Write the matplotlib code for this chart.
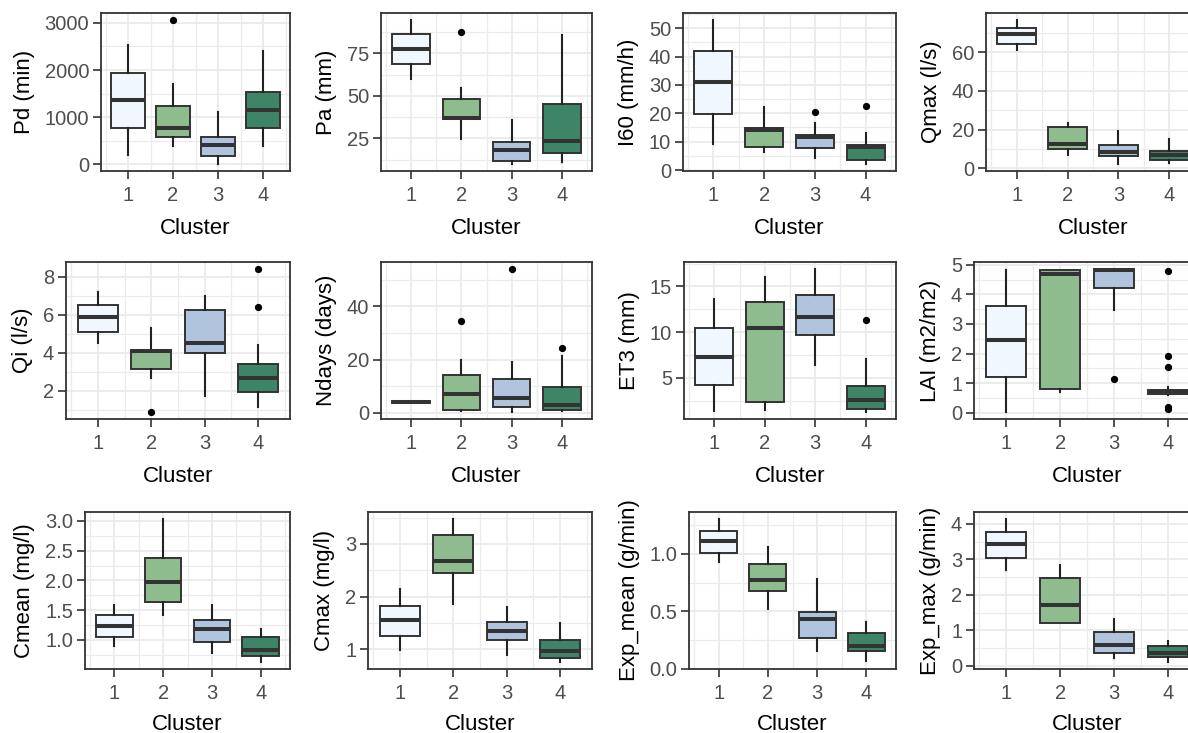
import matplotlib
matplotlib.use("Agg")
import matplotlib.pyplot as plt
from matplotlib.ticker import FixedLocator
import numpy as np

plt.rcParams['font.family'] = ['Liberation Sans', 'DejaVu Sans']

clusters = [1, 2, 3, 4]
cluster_colors = ["#F0F7FE", "#8FBC8F", "#B0C4DE", "#3E8567"]

# per cluster: [whisker low, Q1, median, Q3, whisker high]
pd_stats = [[198, 762, 1376, 1940, 2540], [388, 586, 783, 1249, 1694],
            [14, 176, 409, 586, 1108], [388, 762, 1150, 1538, 2400]]
pd_out = [[], [3056], [], []]

pa_stats = [[60.1, 68.5, 77.7, 86.2, 94.4], [24.4, 36.2, 37.0, 48.3, 54.4],
            [10.1, 11.5, 18.1, 22.8, 35.8], [11.3, 16.6, 23.4, 45.2, 85.6]]
pa_out = [[], [87.5], [], []]

i60_stats = [[9.1, 19.6, 31.1, 41.8, 52.8], [6.5, 8.0, 14.0, 14.8, 22.2],
             [4.1, 7.9, 11.8, 12.2, 16.7], [2.2, 3.5, 8.2, 8.7, 13.2]]
i60_out = [[], [], [20.6], [22.4]]

qmax_stats = [[60.9, 64.3, 69.1, 72.6, 76.4], [7.2, 10.2, 12.4, 21.3, 23.6],
              [2.4, 6.4, 8.6, 11.9, 19.3], [2.6, 4.3, 6.7, 8.9, 15.0]]
qmax_out = [[], [], [], []]

qi_stats = [[4.51, 5.09, 5.91, 6.54, 7.18], [2.70, 3.17, 4.11, 4.16, 5.32],
            [1.74, 4.01, 4.51, 6.26, 7.01], [1.13, 1.95, 2.70, 3.40, 4.43]]
qi_out = [[], [0.9], [], [6.4, 8.4]]

ndays_stats = [[3.9, 3.9, 4.1, 4.3, 4.3], [0.6, 1.2, 7.0, 14.3, 19.9],
               [0.4, 2.2, 5.7, 12.8, 19.1], [0.7, 1.2, 2.9, 9.7, 21.5]]
ndays_out = [[], [34.6], [53.9], [24.4]]

et3_stats = [[1.3, 4.2, 7.3, 10.5, 13.6], [1.45, 2.3, 10.4, 13.3, 16.0],
             [6.4, 9.7, 11.7, 14.1, 16.9], [1.26, 1.56, 2.55, 4.1, 7.05]]
et3_out = [[], [], [], [11.3]]

lai_stats = [[0.03, 1.21, 2.46, 3.6, 4.81], [0.70, 0.79, 4.67, 4.81, 4.81],
             [3.47, 4.22, 4.83, 4.85, 4.85], [0.61, 0.63, 0.70, 0.77, 0.87]]
lai_out = [[], [], [1.13], [0.12, 0.2, 1.54, 1.90, 4.78]]

cmean_stats = [[0.90, 1.04, 1.24, 1.42, 1.59], [1.41, 1.63, 1.97, 2.37, 3.03],
               [0.78, 0.96, 1.19, 1.33, 1.58], [0.63, 0.73, 0.83, 1.05, 1.19]]
cmean_out = [[], [], [], []]

cmax_stats = [[0.98, 1.26, 1.55, 1.83, 2.14], [1.85, 2.44, 2.68, 3.16, 3.47],
              [0.89, 1.17, 1.35, 1.52, 1.80], [0.76, 0.84, 0.96, 1.17, 1.50]]
cmax_out = [[], [], [], []]

expmean_stats = [[0.93, 1.01, 1.11, 1.20, 1.30], [0.52, 0.68, 0.77, 0.91, 1.06],
                 [0.16, 0.27, 0.43, 0.49, 0.78], [0.07, 0.16, 0.20, 0.31, 0.41]]
expmean_out = [[], [], [], []]

expmax_stats = [[2.70, 3.04, 3.43, 3.77, 4.13], [1.21, 1.21, 1.72, 2.47, 2.83],
                [0.23, 0.37, 0.58, 0.96, 1.32], [0.11, 0.25, 0.37, 0.55, 0.70]]
expmax_out = [[], [], [], []]

y_labels = ["Pd (min)", "Pa (mm)", "I60 (mm/h)", "Qmax (l/s)",
            "Qi (l/s)", "Ndays (days)", "ET3 (mm)", "LAI (m2/m2)",
            "Cmean (mg/l)", "Cmax (mg/l)", "Exp_mean (g/min)", "Exp_max (g/min)"]
y_ticks = [[0, 1000, 2000, 3000], [25, 50, 75], [0, 10, 20, 30, 40, 50], [0, 20, 40, 60],
           [2, 4, 6, 8], [0, 20, 40], [5, 10, 15], [0, 1, 2, 3, 4, 5],
           [1.0, 1.5, 2.0, 2.5, 3.0], [1, 2, 3], [0.0, 0.5, 1.0], [0, 1, 2, 3, 4]]
y_fmt = ["{:.0f}"] * 8 + ["{:.1f}", "{:.0f}", "{:.1f}", "{:.0f}"]

all_stats = [pd_stats, pa_stats, i60_stats, qmax_stats, qi_stats, ndays_stats,
             et3_stats, lai_stats, cmean_stats, cmax_stats, expmean_stats, expmax_stats]
all_out = [pd_out, pa_out, i60_out, qmax_out, qi_out, ndays_out,
           et3_out, lai_out, cmean_out, cmax_out, expmean_out, expmax_out]

W, H = 1188, 733
# panel boxes in pixels: left, right, top, bottom
rows_tb = [(13, 171), (262, 419), (512, 669)]
lefts = [[101, 381, 683, 986], [66, 381, 684, 974], [85, 368, 689, 974]]
rights = [290, 592, 896, 1200]

fig = plt.figure(figsize=(W / 100, H / 100), dpi=100)
fig.patch.set_facecolor("white")

grid_col = "#EBEBEB"
edge = "#333333"

for i in range(12):
    r, c = divmod(i, 4)
    top, bot = rows_tb[r]
    l = lefts[r][c]
    rr = rights[c]
    ax = fig.add_axes([l / W, 1 - bot / H, (rr - l) / W, (bot - top) / H])
    stats = all_stats[i]
    outs = all_out[i]
    bx = []
    for k, s in enumerate(stats):
        bx.append(dict(whislo=s[0], q1=s[1], med=s[2], q3=s[3], whishi=s[4],
                       fliers=outs[k], label=str(clusters[k])))
    res = ax.bxp(bx, positions=clusters, widths=0.75, patch_artist=True,
                 showcaps=False, showfliers=True,
                 boxprops=dict(edgecolor=edge, linewidth=1.4),
                 whiskerprops=dict(color="#222222", linewidth=1.5),
                 medianprops=dict(color=edge, linewidth=2.9, solid_capstyle='butt'),
                 flierprops=dict(marker='o', markerfacecolor='black',
                                 markeredgecolor='black', markersize=4.2))
    for patch, col in zip(res['boxes'], cluster_colors):
        patch.set_facecolor(col)
        patch.set_zorder(3)
    for ln in res['whiskers'] + res['medians'] + res['fliers']:
        ln.set_zorder(4)
    vals = []
    for s, o in zip(stats, outs):
        vals += list(s) + list(o)
    lo, hi = min(vals), max(vals)
    pad = 0.05 * (hi - lo)
    ax.set_ylim(lo - pad, hi + pad)
    ax.set_xlim(0.4, 4.6)
    ax.set_xticks(clusters)
    ax.set_xticklabels([str(v) for v in clusters])
    yt = y_ticks[i]
    ax.set_yticks(yt)
    ax.set_yticklabels([y_fmt[i].format(v) for v in yt])
    step = yt[1] - yt[0]
    minors = [yt[0] - step / 2] + [v + step / 2 for v in yt]
    ax.yaxis.set_minor_locator(FixedLocator(minors))
    ax.xaxis.set_minor_locator(FixedLocator([0.5, 1.5, 2.5, 3.5, 4.5]))
    ax.set_axisbelow(True)
    ax.grid(which='major', color=grid_col, linewidth=1.3)
    ax.grid(which='minor', color=grid_col, linewidth=0.9)
    ax.tick_params(which='minor', length=0)
    ax.tick_params(axis='x', which='major', length=6, width=1.2, color=edge,
                   labelsize=14.5, labelcolor="#4D4D4D", pad=5)
    ax.tick_params(axis='y', which='major', length=6, width=1.2, color=edge,
                   labelsize=14.5, labelcolor="#4D4D4D", pad=2.5)
    for sp in ax.spines.values():
        sp.set_color(edge)
        sp.set_linewidth(1.3)
        sp.set_zorder(5)
    ax.set_xlabel("Cluster", fontsize=16, color="black", labelpad=7.5 if r == 2 else 9)
    ax.set_ylabel(y_labels[i], fontsize=16, color="black", labelpad=7)

fig.savefig("out.png", dpi=100, facecolor="white")
